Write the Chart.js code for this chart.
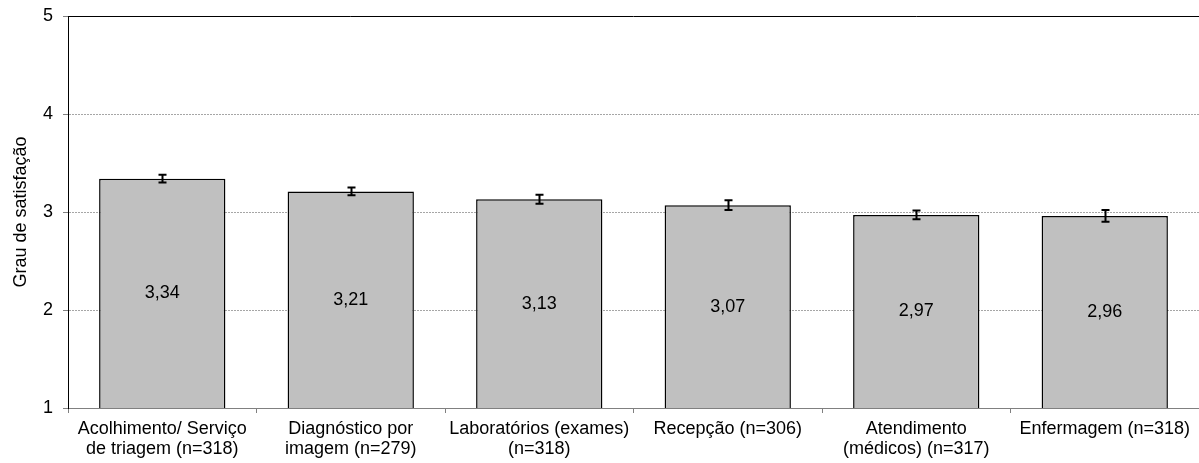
<!DOCTYPE html>
<html>
<head>
<meta charset="utf-8">
<script src="https://cdn.jsdelivr.net/npm/chart.js@4"></script>
<style>
  html, body { margin: 0; padding: 0; background: #fff; }
  #wrap { width: 1199px; height: 463px; }
</style>
</head>
<body>
<div id="wrap"><canvas id="chart" width="1199" height="463"></canvas></div>
<script>
// Données
const categories = [
    ['Acolhimento/ Serviço', 'de triagem (n=318)'],
    ['Diagnóstico por', 'imagem (n=279)'],
    ['Laboratórios (exames)', '(n=318)'],
    'Recepção (n=306)',
    ['Atendimento', '(médicos) (n=317)'],
    'Enfermagem (n=318)'
];
const means = [3.34, 3.21, 3.13, 3.07, 2.97, 2.96];
const errors = [0.04, 0.04, 0.045, 0.05, 0.045, 0.06];
const yTicks = [1, 2, 3, 4, 5];

const FONT = "'Liberation Sans', Arial, sans-serif";

// Barres d'erreur + étiquettes au centre des barres + bord supérieur
const extrasPlugin = {
    id: 'extras',
    afterDatasetsDraw(chart) {
        const ctx = chart.ctx;
        const y = chart.scales.y;
        const meta = chart.getDatasetMeta(0);
        const area = chart.chartArea;
        const topY = Math.round(y.getPixelForValue(yTicks[yTicks.length - 1])) + 0.5;

        ctx.save();
        // ligne pleine en haut (valeur max)
        ctx.strokeStyle = '#000';
        ctx.lineWidth = 1;
        ctx.beginPath();
        ctx.moveTo(area.left, topY);
        ctx.lineTo(area.right, topY);
        ctx.stroke();

        meta.data.forEach((bar, i) => {
            const x = Math.round(bar.x) + 0.5;
            const top = y.getPixelForValue(means[i] + errors[i]);
            const bot = y.getPixelForValue(means[i] - errors[i]);
            ctx.strokeStyle = '#000';
            ctx.lineWidth = 2;
            ctx.beginPath();
            ctx.moveTo(x, top);
            ctx.lineTo(x, bot);
            ctx.moveTo(x - 4, top);
            ctx.lineTo(x + 4, top);
            ctx.moveTo(x - 4, bot);
            ctx.lineTo(x + 4, bot);
            ctx.stroke();

            // valeur au milieu de la partie visible de la barre
            const base = Math.min(bar.base, area.bottom);
            const mid = (bar.y + base) / 2;
            ctx.fillStyle = '#000';
            ctx.font = '18px ' + FONT;
            ctx.textAlign = 'center';
            ctx.textBaseline = 'middle';
            ctx.fillText(means[i].toFixed(2).replace('.', ','), bar.x, mid);
        });
        ctx.restore();
    }
};

new Chart(document.getElementById('chart'), {
    type: 'bar',
    data: {
        labels: categories,
        datasets: [{
            data: means,
            backgroundColor: '#c0c0c0',
            borderColor: '#000',
            borderWidth: 1.5,
            borderSkipped: false,
            categoryPercentage: 1,
            barPercentage: 0.67
        }]
    },
    options: {
        responsive: false,
        animation: false,
        layout: { padding: { top: 0, right: 0, left: 0, bottom: 0 } },
        plugins: {
            legend: { display: false },
            tooltip: { enabled: false }
        },
        scales: {
            x: {
                offset: true,
                grid: {
                    offset: true,
                    drawOnChartArea: false,
                    drawTicks: true,
                    tickLength: 5,
                    color: '#808080'
                },
                border: { color: '#808080', width: 1 },
                ticks: {
                    color: '#000',
                    padding: 6,
                    maxRotation: 0,
                    autoSkip: false,
                    font: { family: FONT, size: 18, lineHeight: 1.12 }
                },
                afterFit(scale) { scale.height = 55; }
            },
            y: {
                min: 1,
                max: 5,
                afterBuildTicks(scale) {
                    scale.ticks = yTicks.map(v => ({ value: v }));
                },
                grid: {
                    color: ctx => {
                        if (!ctx.tick) return '#a6a6a6';
                        if (ctx.tick.value === 5) return 'rgba(0,0,0,0)';
                        if (ctx.tick.value === 1) return '#808080';
                        return '#a6a6a6';
                    },
                    tickColor: '#808080',
                    tickLength: 5,
                    lineWidth: 1
                },
                border: { color: '#000', width: 1, dash: [2, 1] },
                ticks: {
                    color: '#000',
                    padding: 10,
                    font: { family: FONT, size: 18, lineHeight: 1 }
                },
                title: {
                    display: true,
                    text: 'Grau de satisfação',
                    color: '#000',
                    padding: { top: 10, bottom: 6 },
                    font: { family: FONT, size: 18 }
                },
                afterFit(scale) {
                    scale.width = 68;
                    scale.paddingTop = 16;
                }
            }
        }
    },
    plugins: [extrasPlugin]
});
</script>
</body>
</html>
